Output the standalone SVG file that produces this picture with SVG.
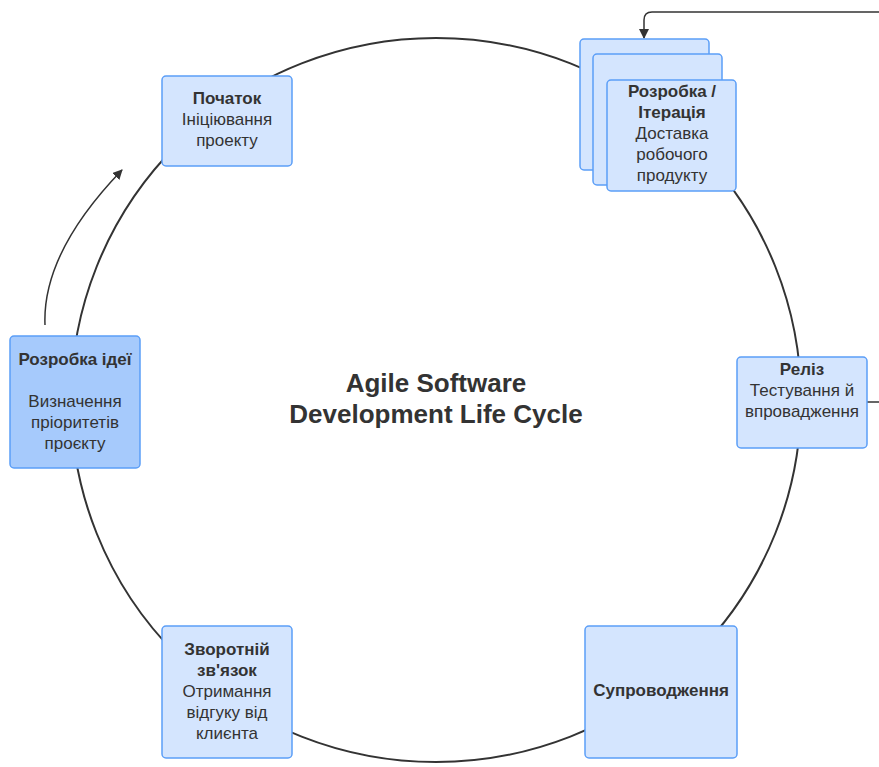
<svg xmlns="http://www.w3.org/2000/svg" width="879" height="767" viewBox="0 0 879 767">
<defs>
<style>
.box{fill:#d4e5fe;stroke:#5b9ef7;stroke-width:1.5}
.dark{fill:#a6cafc;stroke:#5b9ef7;stroke-width:1.5}
.t{font-family:"Liberation Sans",Arial,sans-serif;font-size:17px;fill:#333333;text-anchor:middle}
.b{font-weight:bold}
.title{font-family:"Liberation Sans",Arial,sans-serif;font-size:26px;font-weight:bold;fill:#333333;text-anchor:middle}
.line{fill:none;stroke:#333333;stroke-width:2}
.thin{fill:none;stroke:#333333;stroke-width:1.5}
</style>
<marker id="arr2" viewBox="0 0 10 10" refX="9" refY="5" markerWidth="10" markerHeight="10" orient="auto" markerUnits="userSpaceOnUse">
<path d="M0,0 L10,5 L0,10 z" fill="#333333"/>
</marker>
</defs>
<rect width="879" height="767" fill="#ffffff"/>
<g id="connectors">
<ellipse class="line" cx="436" cy="400" rx="365" ry="362"/>
<path class="thin" d="M879,12 L652,12 Q644,12 644,20 L644,38" marker-end="url(#arr2)"/>
<path class="thin" d="M867,402 L879,402"/>
<path class="thin" d="M45,325 Q42,253 122,170" marker-end="url(#arr2)"/>
</g>
<g id="title">
<text class="title" x="436" y="392">Agile Software</text>
<text class="title" x="436" y="423">Development Life Cycle</text>
</g>
<g id="pochatok">
<rect class="box" x="162" y="76" width="130" height="90" rx="4"/>
<text class="t b" x="227" y="104">Початок</text>
<text class="t" x="227" y="125">Ініціювання</text>
<text class="t" x="227" y="146">проекту</text>
</g>
<g id="iteration">
<rect class="box" x="580" y="39" width="129" height="131" rx="4"/>
<rect class="box" x="593" y="54" width="129" height="131" rx="4"/>
<rect class="box" x="607" y="80" width="129" height="111" rx="4"/>
<text class="t b" x="672" y="97">Розробка /</text>
<text class="t b" x="672" y="118">Ітерація</text>
<text class="t" x="672" y="139">Доставка</text>
<text class="t" x="672" y="160">робочого</text>
<text class="t" x="672" y="181">продукту</text>
</g>
<g id="reliz">
<rect class="box" x="737" y="357" width="130" height="91" rx="4"/>
<text class="t b" x="802" y="375">Реліз</text>
<text class="t" x="802" y="396">Тестування й</text>
<text class="t" x="802" y="417">впровадження</text>
</g>
<g id="suprovodzhennia">
<rect class="box" x="585" y="626" width="152" height="132" rx="4"/>
<text class="t b" x="661" y="696">Супроводження</text>
</g>
<g id="feedback">
<rect class="box" x="162" y="626" width="130" height="132" rx="4"/>
<text class="t b" x="227" y="655">Зворотній</text>
<text class="t b" x="227" y="676">зв'язок</text>
<text class="t" x="227" y="697">Отримання</text>
<text class="t" x="227" y="718">відгуку від</text>
<text class="t" x="227" y="739">клиєнта</text>
</g>
<g id="idea">
<rect class="dark" x="10" y="336" width="130" height="132" rx="4"/>
<text class="t b" x="75" y="365">Розробка ідеї</text>
<text class="t" x="75" y="407">Визначення</text>
<text class="t" x="75" y="428">пріоритетів</text>
<text class="t" x="75" y="449">проєкту</text>
</g>
</svg>
